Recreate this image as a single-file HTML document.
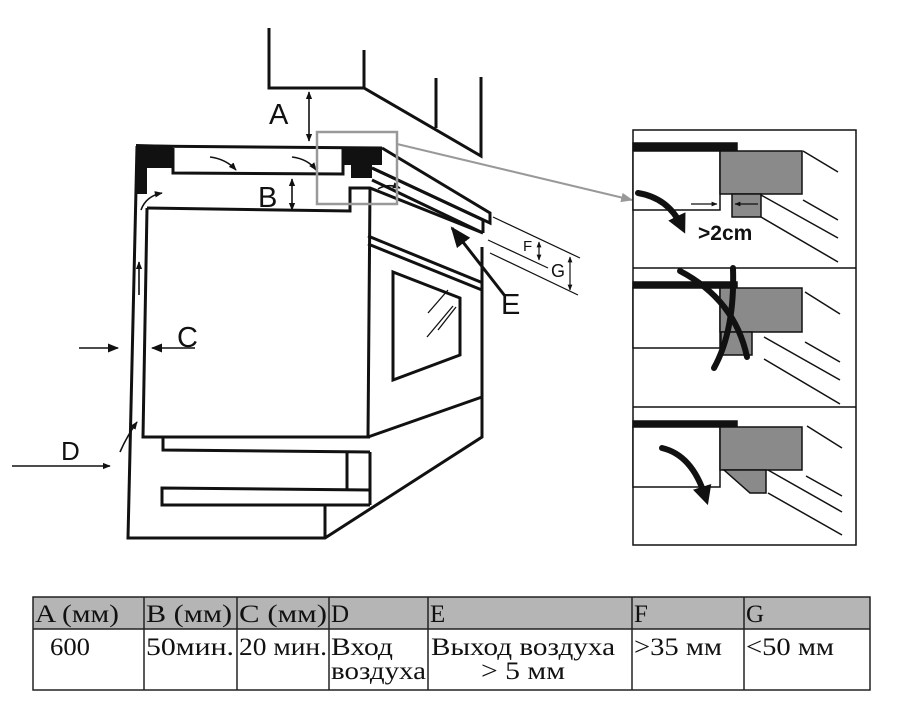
<!DOCTYPE html>
<html><head><meta charset="utf-8"><style>
html,body{margin:0;padding:0;background:#fff;}
svg{display:block;}
.t{font-family:"Liberation Serif","DejaVu Serif",serif;font-size:25px;fill:#111;}
.l{font-family:"Liberation Sans",sans-serif;font-size:29px;fill:#111;}
</style></head><body>
<svg width="900" height="708" viewBox="0 0 900 708" xmlns="http://www.w3.org/2000/svg">
<defs>
<marker id="ah" viewBox="0 0 10 10" refX="9" refY="5" markerWidth="7" markerHeight="7" orient="auto-start-reverse"><path d="M0,1 L10,5 L0,9 z" fill="#111"/></marker>
<marker id="ahs" viewBox="0 0 10 10" refX="9" refY="5" markerWidth="5" markerHeight="5" orient="auto-start-reverse"><path d="M0,1 L10,5 L0,9 z" fill="#111"/></marker>
<marker id="ahg" viewBox="0 0 10 10" refX="9" refY="5" markerWidth="6" markerHeight="6" orient="auto"><path d="M0,1 L10,5 L0,9 z" fill="#999"/></marker>
<marker id="ahb" viewBox="0 0 10 10" refX="5" refY="5" markerWidth="3.2" markerHeight="3.2" orient="auto"><path d="M0,0 L10,5 L0,10 z" fill="#111"/></marker>
</defs>
<g fill="none" stroke="#111" stroke-width="3">
<polyline points="269,28 269,88 364,88 481,156 481,77"/>
<line x1="364" y1="50" x2="364" y2="88"/>
<line x1="436" y1="78" x2="436" y2="128"/>
<polyline points="137,146 382,148"/>
<polyline points="137,146 128,538 325,538 482,437 482,247"/>
<polyline points="173,148 173,173 343,174 343,148"/>
<polyline points="147,208 350,211 350,188 370,188 483,233"/>
<polyline points="147,208 143,437 370,437"/>
<line x1="370" y1="188" x2="368" y2="437"/>
<polyline points="382,148 490,213 490,223 372,168"/>
<polyline points="372,168 483,220 483,233"/>
<line x1="372" y1="180" x2="483" y2="233"/>
<line x1="368" y1="236" x2="483" y2="283"/>
<line x1="368" y1="244" x2="482" y2="290"/>
<polyline points="368,437 482,397"/>
<polygon points="393,272 460,298 460,355 393,380"/>
<polyline points="163,437 163,450 370,452"/>
<line x1="347" y1="452" x2="347" y2="490"/>
<line x1="370" y1="452" x2="370" y2="505"/>
<polyline points="370,490 162,488 162,505 370,505"/>
<line x1="325" y1="505" x2="325" y2="538"/>
</g>
<g stroke="#111" stroke-width="1.3" fill="none">
<line x1="428" y1="313" x2="448" y2="290"/><line x1="427" y1="337" x2="453" y2="306"/><line x1="438" y1="330" x2="456" y2="307"/>
</g>
<path d="M136,144 L173,145 L173,168 L147,168 L147,194 L136,194 Z" fill="#111"/>
<path d="M343,147 L382,147 L382,165 L372,165 L372,178 L351,178 L351,165 L343,165 Z" fill="#111"/>
<g stroke="#111" stroke-width="1.6" fill="none">
<line x1="309" y1="92" x2="309" y2="141" marker-start="url(#ahs)" marker-end="url(#ahs)"/>
<line x1="292" y1="179" x2="292" y2="210" marker-start="url(#ahs)" marker-end="url(#ahs)"/>
<line x1="79" y1="348" x2="118" y2="348" marker-end="url(#ah)"/>
<line x1="195" y1="348" x2="152" y2="348" marker-end="url(#ah)"/>
<line x1="12" y1="466" x2="110" y2="466" marker-end="url(#ahs)"/>
<path d="M120,452 Q127,436 137,422" marker-end="url(#ahs)"/>
<line x1="139" y1="295" x2="139" y2="262" marker-end="url(#ahs)"/>
<path d="M141,210 Q146,196 162,193" marker-end="url(#ahs)"/>
<path d="M210,157 Q226,159 236,170" marker-end="url(#ahs)"/>
<path d="M292,157 Q308,159 316,170" marker-end="url(#ahs)"/>
<path d="M378,189 Q388,183 400,188" marker-end="url(#ahs)"/>
<line x1="493" y1="217" x2="580" y2="258" stroke-width="1.2"/>
<line x1="488" y1="240" x2="548" y2="268" stroke-width="1.2"/>
<line x1="490" y1="253" x2="578" y2="295" stroke-width="1.2"/>
<line x1="539" y1="242" x2="539" y2="260" stroke-width="1.2" marker-start="url(#ahs)" marker-end="url(#ahs)"/>
<line x1="570" y1="257" x2="570" y2="290" stroke-width="1.2" marker-start="url(#ahs)" marker-end="url(#ahs)"/>
</g>
<line x1="505" y1="296" x2="452" y2="228" stroke="#111" stroke-width="3" marker-end="url(#ah)"/>
<text class="l" x="269" y="124">A</text>
<text class="l" x="258" y="207">B</text>
<text class="l" x="177" y="347">C</text>
<text class="l" x="61" y="460" style="font-size:26px">D</text>
<text class="l" x="501" y="314">E</text>
<text class="l" x="523" y="251" style="font-size:15px">F</text>
<text class="l" x="551" y="277" style="font-size:18px">G</text>
<rect x="317" y="132" width="80" height="72" fill="none" stroke="#999" stroke-width="2.5"/>
<line x1="397" y1="144" x2="632" y2="200" stroke="#999" stroke-width="2" marker-end="url(#ahg)"/>
<rect x="633" y="130" width="223" height="415" fill="none" stroke="#111" stroke-width="1.5"/>
<line x1="633" y1="268" x2="856" y2="268" stroke="#111" stroke-width="1.5"/>
<line x1="633" y1="407" x2="856" y2="407" stroke="#111" stroke-width="1.5"/>
<g stroke="#111" stroke-width="1.5">
<rect x="633" y="143" width="104" height="7" fill="#111"/>
<rect x="633" y="151" width="87" height="59" fill="#fff"/>
<rect x="720" y="151" width="82" height="43" fill="#8a8a8a"/>
<rect x="732" y="194" width="29" height="23" fill="#8a8a8a"/>
<line x1="803" y1="151" x2="838" y2="172"/><line x1="803" y1="200" x2="838" y2="220"/>
<line x1="761" y1="195" x2="838" y2="238"/><line x1="761" y1="217" x2="838" y2="262"/>
<rect x="633" y="282" width="104" height="6" fill="#111"/>
<rect x="633" y="288" width="87" height="60" fill="#fff"/>
<rect x="720" y="288" width="82" height="44" fill="#8a8a8a"/>
<rect x="721" y="332" width="31" height="23" fill="#8a8a8a"/>
<line x1="805" y1="292" x2="840" y2="314"/><line x1="805" y1="342" x2="840" y2="362"/>
<line x1="764" y1="337" x2="840" y2="380"/><line x1="764" y1="359" x2="840" y2="404"/>
<rect x="633" y="421" width="104" height="6" fill="#111"/>
<rect x="633" y="427" width="87" height="60" fill="#fff"/>
<rect x="720" y="427" width="82" height="43" fill="#8a8a8a"/>
<polygon points="724,470 766,470 766,493 750,493" fill="#8a8a8a"/>
<line x1="807" y1="426" x2="842" y2="448"/><line x1="806" y1="476" x2="842" y2="496"/>
<line x1="768" y1="470" x2="842" y2="512"/><line x1="768" y1="493" x2="842" y2="535"/>
</g>
<g fill="none" stroke="#111" stroke-width="6" stroke-linecap="round">
<path d="M638,193 Q668,198 681,225" marker-end="url(#ahb)"/>
<path d="M680,271 Q735,300 747,357"/>
<path d="M733,268 Q735,330 714,368"/>
<path d="M662,448 Q692,455 705,496" marker-end="url(#ahb)"/>
</g>
<g stroke="#111" stroke-width="1.2">
<line x1="691" y1="204" x2="717" y2="204" marker-end="url(#ahs)"/>
<line x1="758" y1="204" x2="735" y2="204" marker-end="url(#ahs)"/>
</g>
<text x="698" y="240" style="font-family:'Liberation Sans',sans-serif;font-weight:bold;font-size:21px" fill="#111">&gt;2cm</text>
<rect x="33" y="597" width="837" height="32" fill="#b5b5b5"/>
<g stroke="#222" stroke-width="1.5" fill="none">
<rect x="33" y="597" width="837" height="93"/>
<line x1="33" y1="629" x2="870" y2="629"/>
<line x1="144" y1="597" x2="144" y2="690"/><line x1="237" y1="597" x2="237" y2="690"/>
<line x1="329" y1="597" x2="329" y2="690"/><line x1="428" y1="597" x2="428" y2="690"/>
<line x1="632" y1="597" x2="632" y2="690"/><line x1="744" y1="597" x2="744" y2="690"/>
</g>
<g class="t">
<text x="35" y="622" textLength="84" lengthAdjust="spacingAndGlyphs">A (мм)</text>
<text x="146" y="622" textLength="86" lengthAdjust="spacingAndGlyphs">B (мм)</text>
<text x="239" y="622" textLength="88" lengthAdjust="spacingAndGlyphs">C (мм)</text>
<text x="331" y="622">D</text>
<text x="430" y="622">E</text>
<text x="634" y="622">F</text>
<text x="746" y="622">G</text>
<text x="50" y="655" textLength="40" lengthAdjust="spacingAndGlyphs">600</text>
<text x="146" y="655" textLength="88" lengthAdjust="spacingAndGlyphs">50мин.</text>
<text x="239" y="655" textLength="88" lengthAdjust="spacingAndGlyphs">20 мин.</text>
<text x="331" y="655" textLength="62" lengthAdjust="spacingAndGlyphs">Вход</text>
<text x="331" y="679" textLength="95" lengthAdjust="spacingAndGlyphs">воздуха</text>
<text x="431" y="655" textLength="184" lengthAdjust="spacingAndGlyphs">Выход воздуха</text>
<text x="481" y="679" textLength="84" lengthAdjust="spacingAndGlyphs">&gt; 5 мм</text>
<text x="634" y="655" textLength="88" lengthAdjust="spacingAndGlyphs">&gt;35 мм</text>
<text x="746" y="655" textLength="88" lengthAdjust="spacingAndGlyphs">&lt;50 мм</text>
</g>
</svg>
</body></html>
